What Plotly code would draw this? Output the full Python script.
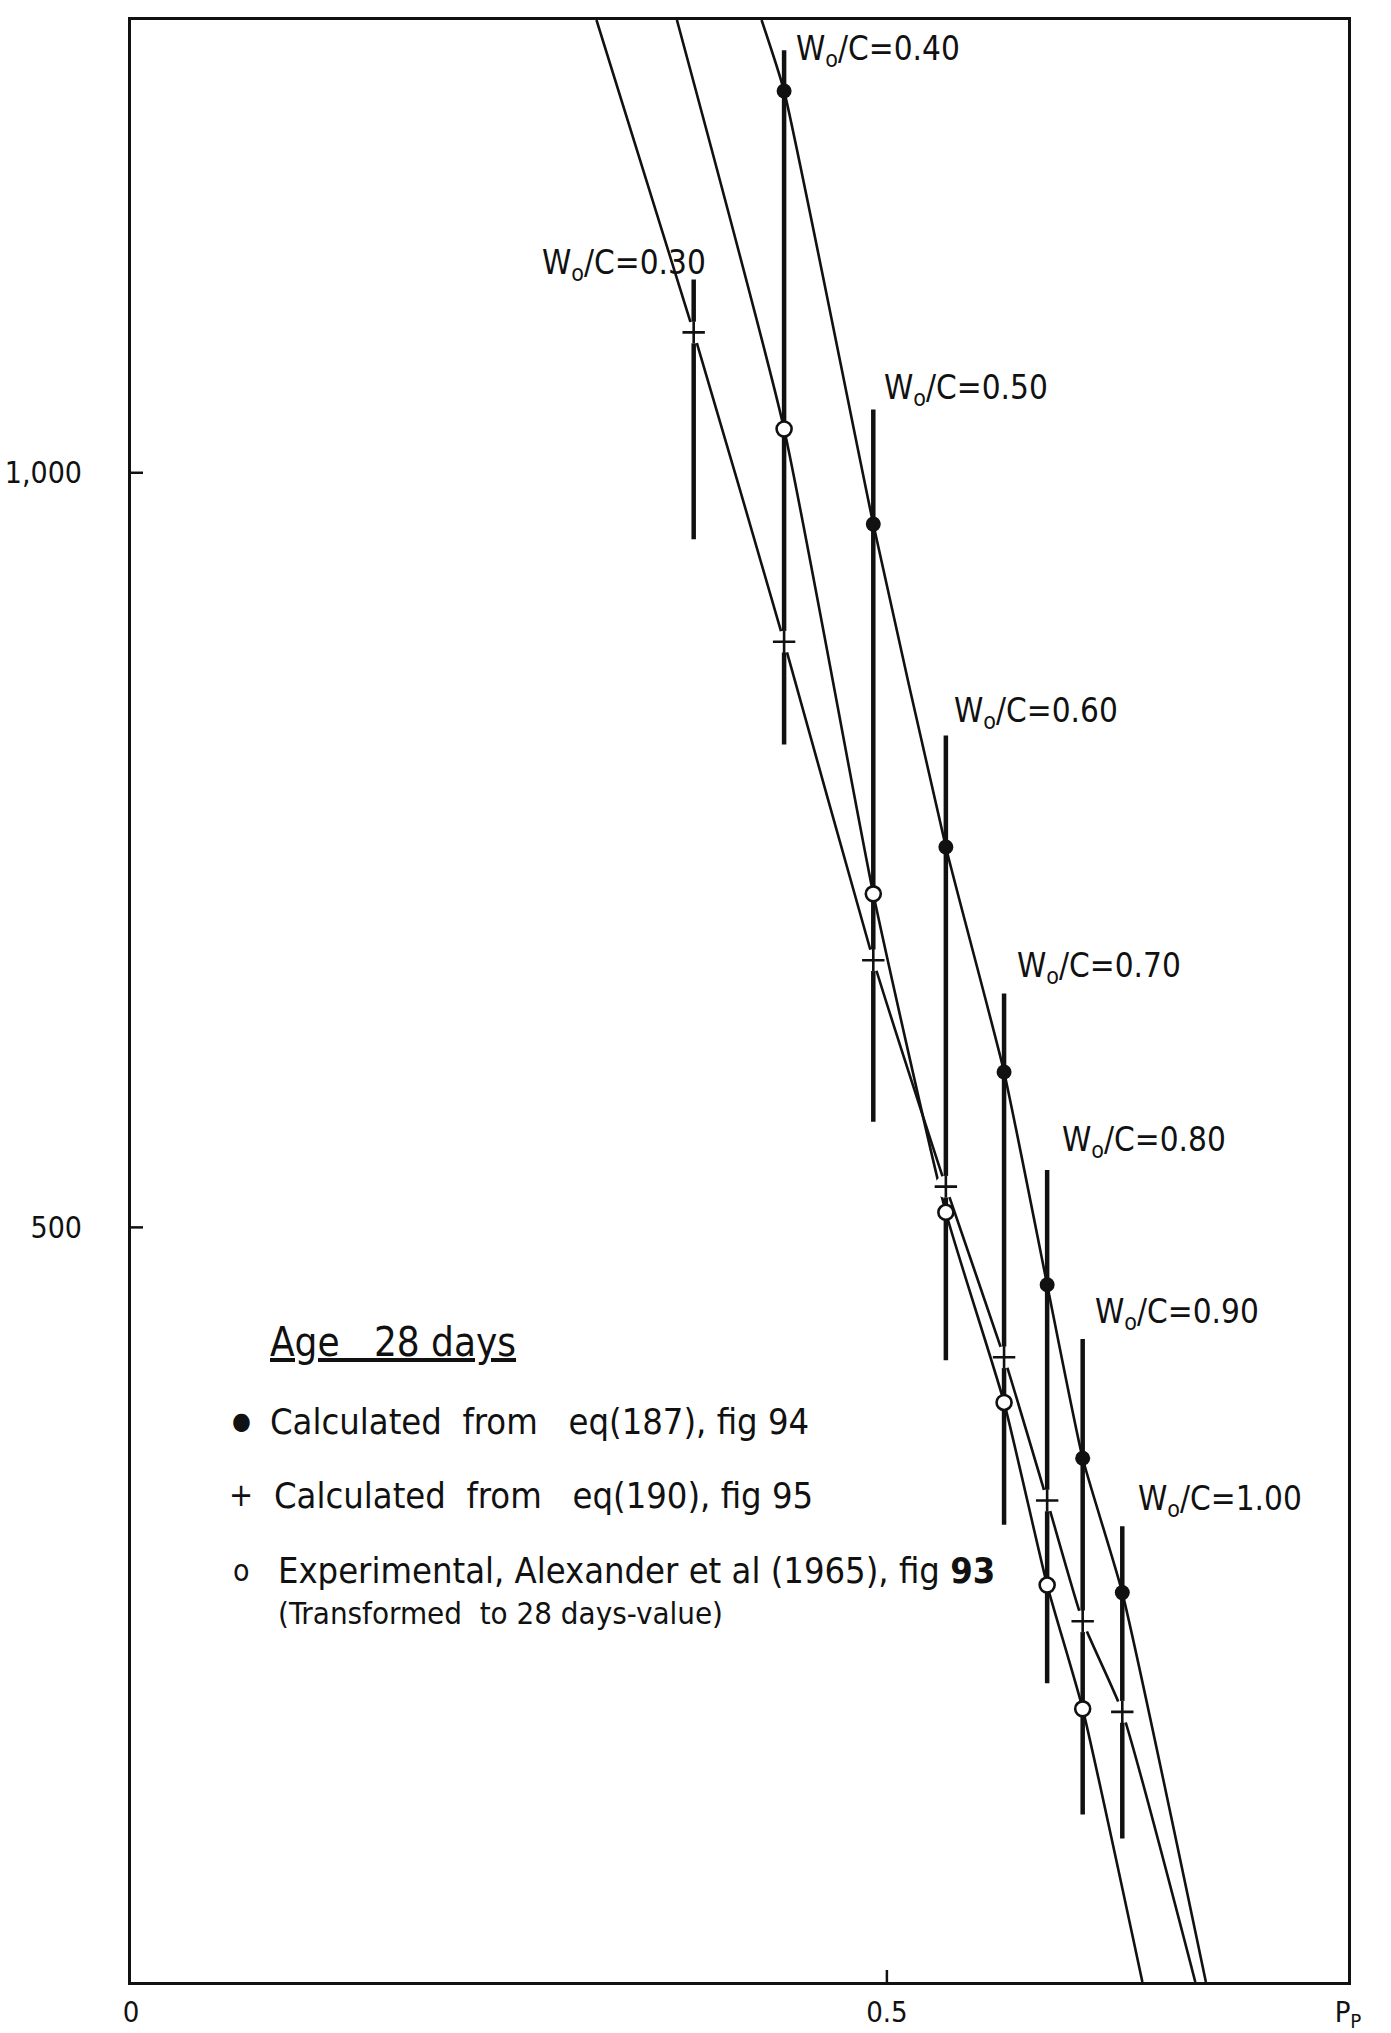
import plotly.graph_objects as go

# ---- data ---------------------------------------------------------------
# water/cement ratios and the corresponding paste porosity P_P
wc = [0.30, 0.40, 0.50, 0.60, 0.70, 0.80, 0.90, 1.00]
pp = [0.3722, 0.432, 0.491, 0.539, 0.5775, 0.606, 0.6295, 0.6557]

# 28-day strength values (None where no value exists)
eq187 = [None, 1253, 966, 752, 603, 462, 347, 258]
eq190 = [1093, 888, 677, 527, 414, 319, 239, 179]
experimental = [None, 1029, 721, 510, 384, 263, 181, None]

# vertical scatter band for each w/c
band_high = [1128, 1280, 1042, 826, 655, 538, 426, 302]
band_low = [956, 820, 570, 412, 303, 198, 111, 95]

# where each fitted curve meets the top and bottom of the frame
eq187_ends_pp = [0.4171, 0.711]
eq190_ends_pp = [0.3079, 0.704]
exp_ends_pp = [0.3611, 0.669]
ends_val = [1300, 0]

# axis ticks
x_tickvals = [0, 0.5, 0.805]
x_ticktext = ["0", "0.5", "P<sub>P</sub>"]
y_tickvals = [500, 1000]
y_ticktext = ["500", "1,000"]

# ---- layout constants ---------------------------------------------------
X_RANGE = [0, 0.805]
Y_RANGE = [0, 1300]
FONT = "DejaVu Sans Condensed, DejaVu Sans, sans-serif"
INK = "#111111"

# caption anchor points (left edge, vertical middle) for the w/c labels
label_pos = [(0.2705, 1138), (0.4385, 1280), (0.4967, 1055), (0.543, 841),
             (0.5847, 672), (0.6144, 557), (0.6362, 443), (0.6647, 319)]


def series(xs, ys):
    px, py = [], []
    for x, y in zip(xs, ys):
        if y is not None:
            px.append(x)
            py.append(y)
    return px, py


def curve(xs, ys, ends_x):
    px, py = series(xs, ys)
    return [ends_x[0]] + px + [ends_x[1]], [ends_val[0]] + py + [ends_val[1]]


fig = go.Figure()

# fitted curves
for ys, ends in [(eq187, eq187_ends_pp), (eq190, eq190_ends_pp), (experimental, exp_ends_pp)]:
    cx, cy = curve(pp, ys, ends)
    fig.add_trace(go.Scatter(x=cx, y=cy, mode="lines",
                             line=dict(color=INK, width=2.6, shape="spline", smoothing=0.5),
                             hoverinfo="skip", showlegend=False))

# scatter bands
bx, by = [], []
for x, lo, hi in zip(pp, band_low, band_high):
    bx += [x, x, None]
    by += [lo, hi, None]
fig.add_trace(go.Scatter(x=bx, y=by, mode="lines", line=dict(color=INK, width=4.5),
                         hoverinfo="skip", showlegend=False))

# white gap behind the + marks
gx, gy = series(pp, eq190)
fig.add_trace(go.Scatter(x=gx, y=gy, mode="markers",
                         marker=dict(symbol="circle", size=22, color="white", line=dict(width=0)),
                         hoverinfo="skip", showlegend=False))

# + : eq (190)
fig.add_trace(go.Scatter(x=gx, y=gy, mode="markers",
                         marker=dict(symbol="cross-thin", size=16, line=dict(width=2.6, color=INK)),
                         name="eq190", showlegend=False))

# filled dots : eq (187)
fx, fy = series(pp, eq187)
fig.add_trace(go.Scatter(x=fx, y=fy, mode="markers",
                         marker=dict(symbol="circle", size=15, color=INK, line=dict(width=0)),
                         name="eq187", showlegend=False))

# open circles : experimental
ox, oy = series(pp, experimental)
fig.add_trace(go.Scatter(x=ox, y=oy, mode="markers",
                         marker=dict(symbol="circle", size=15, color="white", line=dict(width=2.6, color=INK)),
                         name="experimental", showlegend=False))

annotations = []
for w, (lx, ly) in zip(wc, label_pos):
    annotations.append(dict(x=lx, y=ly, xref="x", yref="y", xanchor="left", yanchor="middle",
                            text="W<sub>o</sub>/C=%.2f" % w, showarrow=False,
                            font=dict(family=FONT, size=33, color=INK)))

NB = "\u00a0"
legend_rows = [
    (0.1126, 0.3262, "left", "<u>Age" + NB * 3 + "28 days</u>", 40),
    (0.0912, 0.2859, "center", "\u25cf", 24),
    (0.1126, 0.2859, "left", "Calculated" + NB * 2 + "from" + NB * 3 + "eq(187), fig 94", 36),
    (0.0904, 0.2482, "center", "+", 32),
    (0.1159, 0.2482, "left", "Calculated" + NB * 2 + "from" + NB * 3 + "eq(190), fig 95", 36),
    (0.0904, 0.2095, "center", "o", 30),
    (0.1191, 0.2095, "left", "Experimental, Alexander et al (1965), fig <b>93</b>", 36),
    (0.1191, 0.1881, "left", "(Transformed" + NB * 2 + "to" + NB + "28 days-value)", 31),
]
for lx, ly, anchor, txt, size in legend_rows:
    annotations.append(dict(x=lx, y=ly, xref="paper", yref="paper", xanchor=anchor, yanchor="middle",
                            text=txt, showarrow=False, font=dict(family=FONT, size=size, color=INK)))

# tick marks that cross the frame
shapes = []
for tv in [0.5]:
    shapes.append(dict(type="line", xref="x", yref="y", x0=tv, x1=tv,
                       ysizemode="pixel", yanchor=0, y0=-12, y1=12,
                       line=dict(color=INK, width=2.5)))
for tv in y_tickvals:
    shapes.append(dict(type="line", xref="x", yref="y", y0=tv, y1=tv,
                       xsizemode="pixel", xanchor=0, x0=-14, x1=12,
                       line=dict(color=INK, width=2.5)))

fig.update_layout(
    width=1391, height=2033,
    margin=dict(l=131, r=43, t=20, b=51, pad=0),
    paper_bgcolor="white", plot_bgcolor="white",
    showlegend=False,
    annotations=annotations,
    shapes=shapes,
    xaxis=dict(range=X_RANGE, showgrid=False, zeroline=False, showline=True, mirror=True,
               linecolor=INK, linewidth=3, ticks="", tickvals=x_tickvals, ticktext=x_ticktext,
               tickfont=dict(family=FONT, size=29, color=INK), ticklabelstandoff=2,
               automargin=False, fixedrange=True),
    yaxis=dict(range=Y_RANGE, showgrid=False, zeroline=False, showline=True, mirror=True,
               linecolor=INK, linewidth=3, ticks="", tickvals=y_tickvals, ticktext=y_ticktext,
               tickfont=dict(family=FONT, size=30, color=INK), ticklabelstandoff=40,
               automargin=False, fixedrange=True),
)

fig.write_html("out.html")
